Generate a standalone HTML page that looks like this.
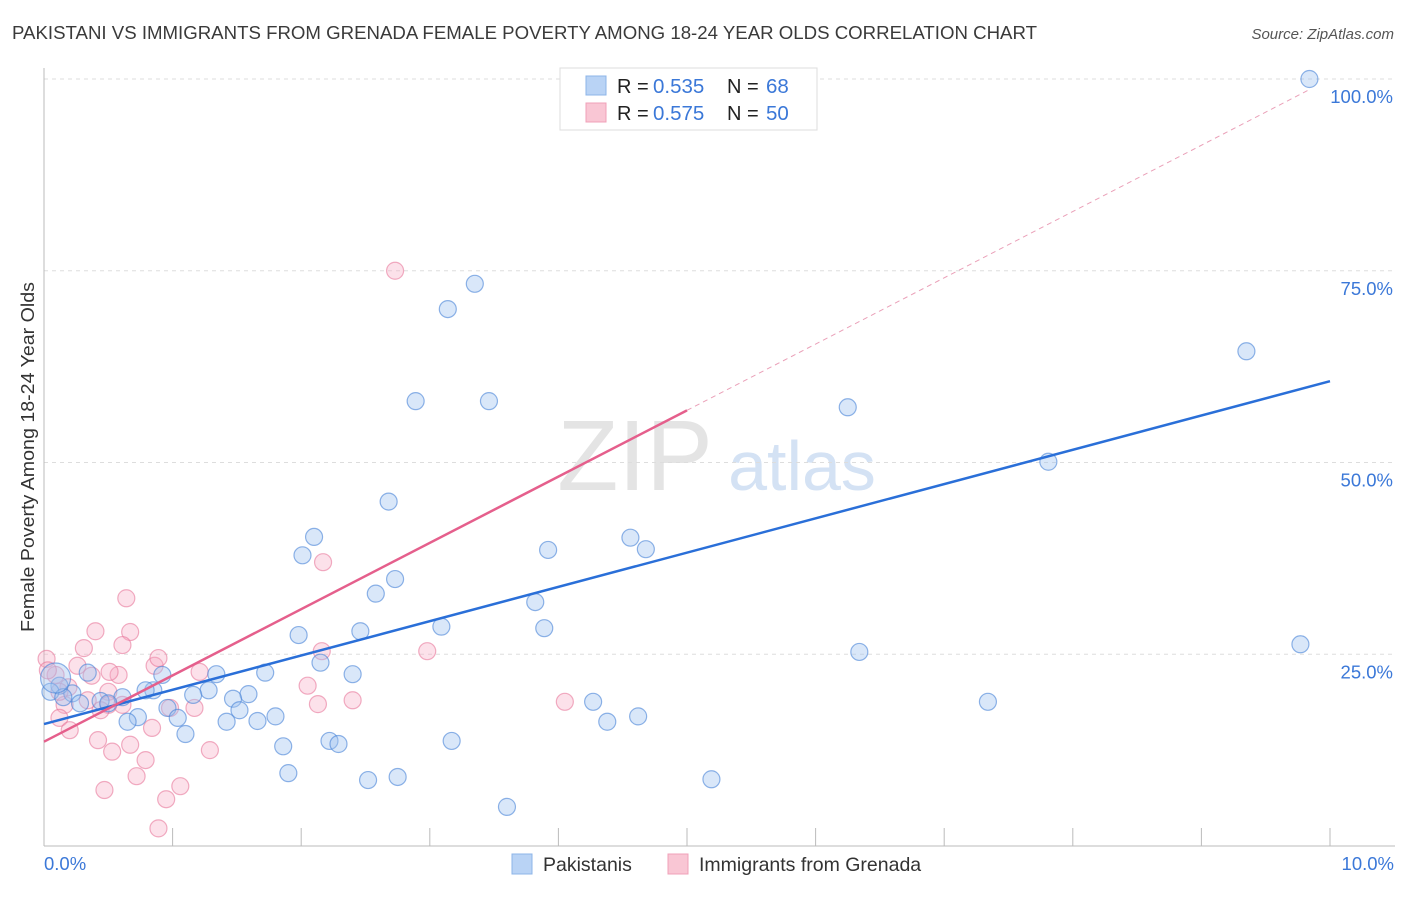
<!DOCTYPE html>
<html><head><meta charset="utf-8"><style>
body{margin:0;background:#fff;font-family:"Liberation Sans",sans-serif;}
svg text{font-family:"Liberation Sans",sans-serif;}
</style></head><body>
<svg id="chart" width="1406" height="892" xmlns="http://www.w3.org/2000/svg">
<text x="12" y="39" font-size="18" fill="#3a3a3a" textLength="1025" lengthAdjust="spacingAndGlyphs">PAKISTANI VS IMMIGRANTS FROM GRENADA FEMALE POVERTY AMONG 18-24 YEAR OLDS CORRELATION CHART</text>
<text x="1394" y="39" font-size="15" fill="#555" font-style="italic" text-anchor="end">Source: ZipAtlas.com</text>
<text transform="translate(34,457) rotate(-90)" font-size="18" fill="#333" text-anchor="middle" textLength="350" lengthAdjust="spacingAndGlyphs">Female Poverty Among 18-24 Year Olds</text>
<g>
<text x="635" y="490" font-size="100" fill="#e4e4e4" font-family="Liberation Serif" text-anchor="middle">ZIP</text>
<text x="802" y="490" font-size="70" fill="#d4e2f4" text-anchor="middle">atlas</text>
</g>
<g id="grid"></g><g id="axes"></g><g id="marks"></g><g id="trends"></g>
<g>
<rect x="560" y="68" width="257" height="62" fill="#fff" stroke="#ddd"/>
<rect x="586" y="76" width="20" height="19" fill="#b9d3f5" stroke="#8db4e8"/>
<text x="617" y="93" font-size="20" fill="#222">R = </text><text x="653" y="93" font-size="20.5" fill="#3b78d8">0.535</text>
<text x="727" y="93" font-size="20" fill="#222">N = </text><text x="766" y="93" font-size="20.5" fill="#3b78d8">68</text>
<rect x="586" y="103" width="20" height="19" fill="#f9c6d4" stroke="#f0a0b8"/>
<text x="617" y="120" font-size="20" fill="#222">R = </text><text x="653" y="120" font-size="20.5" fill="#3b78d8">0.575</text>
<text x="727" y="120" font-size="20" fill="#222">N = </text><text x="766" y="120" font-size="20.5" fill="#3b78d8">50</text>
</g>
<g>
<rect x="512" y="854" width="20" height="20" fill="#b9d3f5" stroke="#8db4e8"/>
<text x="543" y="871" font-size="19.5" fill="#333">Pakistanis</text>
<rect x="668" y="854" width="20" height="20" fill="#f9c6d4" stroke="#f0a0b8"/>
<text x="699" y="871" font-size="19.5" fill="#333">Immigrants from Grenada</text>
</g>
</svg>
<script>
const xTicks=[0,1,2,3,4,5,6,7,8,9,10];
const yTicks=[25,50,75,100];
const yTickLabels=["25.0%","50.0%","75.0%","100.0%"];
const xEndLabels=["0.0%","10.0%"];
const blueX=[3.35,3.14,2.89,3.46,2.68,2.10,2.01,3.92,4.56,4.68,2.73,2.58,3.82,1.98,2.46,3.09,3.89,2.15,2.40,1.34,1.72,0.92,0.34,1.28,1.16,1.59,1.47,0.85,0.79,0.61,0.44,0.50,0.22,0.12,1.52,0.96,0.73,0.65,1.04,1.42,1.66,1.80,1.10,1.86,2.22,2.29,1.90,2.52,2.75,3.17,3.60,4.27,4.38,4.62,5.19,6.25,7.81,9.35,9.77,6.34,7.34,9.84,5.82,0.05,0.15,0.28,0.09];
const blueY=[73.3,70.0,58.0,58.0,44.9,40.3,37.9,38.6,40.2,38.7,34.8,32.9,31.8,27.5,28.0,28.6,28.4,23.9,22.4,22.4,22.6,22.3,22.6,20.3,19.7,19.8,19.2,20.3,20.3,19.4,18.9,18.6,19.9,20.9,17.7,18.0,16.8,16.2,16.7,16.2,16.3,16.9,14.6,13.0,13.7,13.3,9.5,8.6,9.0,13.7,5.1,18.8,16.2,16.9,8.7,57.2,50.1,64.5,26.3,25.3,18.8,100,99.9,20.1,19.4,18.6,21.9];
const pinkX=[2.73,2.17,0.64,0.40,0.67,0.61,0.31,0.02,0.26,0.86,0.89,0.37,1.21,0.09,0.58,0.50,0.19,0.50,0.44,0.16,0.61,1.17,0.12,0.20,2.05,2.13,2.40,2.16,2.98,4.05,0.42,0.67,0.53,0.84,1.29,0.79,0.72,0.47,1.06,0.95,0.89,0.03,4.75,0.12,0.34,0.98,0.51];
const pinkY=[75.0,37.0,32.3,28.0,27.9,26.2,25.8,24.4,23.5,23.5,24.5,22.2,22.7,22.3,22.3,20.1,20.7,18.4,17.7,18.4,18.4,18.0,16.7,15.1,20.9,18.5,19.0,25.4,25.4,18.8,13.8,13.2,12.3,15.4,12.5,11.2,9.1,7.3,7.8,6.1,2.3,22.9,99.9,20.1,19.0,18.0,22.7];
const blueTrend=[15.9,60.6];
const pinkTrend=[13.6,56.8];
const NS="http://www.w3.org/2000/svg";
const X0=44,X1=1330,Y0=846,Y100=79;
const sx=v=>X0+(X1-X0)*v/10;
const sy=v=>Y0-(Y0-Y100)*v/100;
function mk(tag,attrs,parent){const e=document.createElementNS(NS,tag);for(const k in attrs)e.setAttribute(k,attrs[k]);document.getElementById(parent).appendChild(e);return e;}
yTicks.forEach((t,i)=>{
 const l=mk('line',{x1:X0,x2:1395,y1:sy(t),y2:sy(t),stroke:'#ddd','stroke-dasharray':'4,4'},'grid');
 
 
 const tx=mk('text',{x:1393,y:sy(t)+24,'font-size':18.5,fill:'#3b78d8','text-anchor':'end'},'axes');
 tx.textContent=yTickLabels[i];
 
 
});
const ax=mk('line',{x1:X0,x2:1395,y1:Y0,y2:Y0,stroke:'#bbb'},'axes');


const ay=mk('line',{x1:X0,x2:X0,y1:68,y2:Y0,stroke:'#bbb'},'axes');


xTicks.forEach(t=>{
 const l=mk('line',{x1:sx(t),x2:sx(t),y1:828,y2:Y0,stroke:'#bbb'},'axes');
 
 
});
const xl0=mk('text',{x:44,y:870,'font-size':18.5,fill:'#3b78d8'},'axes');xl0.textContent=xEndLabels[0];


const xl1=mk('text',{x:1394,y:870,'font-size':18.5,fill:'#3b78d8','text-anchor':'end'},'axes');xl1.textContent=xEndLabels[1];


pinkX.forEach((v,i)=>{
 const c=mk('circle',{cx:sx(v),cy:sy(pinkY[i]),r:8.5,fill:'rgba(247,170,195,0.35)',stroke:'rgba(232,120,155,0.6)','stroke-width':1.2},'marks');
 
 
});
blueX.forEach((v,i)=>{
 const big=(i===blueX.length-1);
 const c=mk('circle',{cx:sx(v),cy:sy(blueY[i]),r:big?15:8.5,fill:'rgba(160,195,240,0.4)',stroke:'rgba(70,130,215,0.6)','stroke-width':1.2},'marks');
 
 
});
const bt=mk('line',{x1:sx(0),y1:sy(blueTrend[0]),x2:sx(10),y2:sy(blueTrend[1]),stroke:'#2a6fd8','stroke-width':2.5},'trends');


const ps=(pinkTrend[1]-pinkTrend[0])/5;
const pt=mk('line',{x1:sx(0),y1:sy(pinkTrend[0]),x2:sx(5),y2:sy(pinkTrend[1]),stroke:'#e55f8c','stroke-width':2.5},'trends');


const pd=mk('line',{x1:sx(5),y1:sy(pinkTrend[1]),x2:sx(9.85),y2:sy(pinkTrend[0]+ps*9.85),stroke:'#eaa0b8','stroke-width':1,'stroke-dasharray':'5,4'},'trends');


</script>
</body></html>
